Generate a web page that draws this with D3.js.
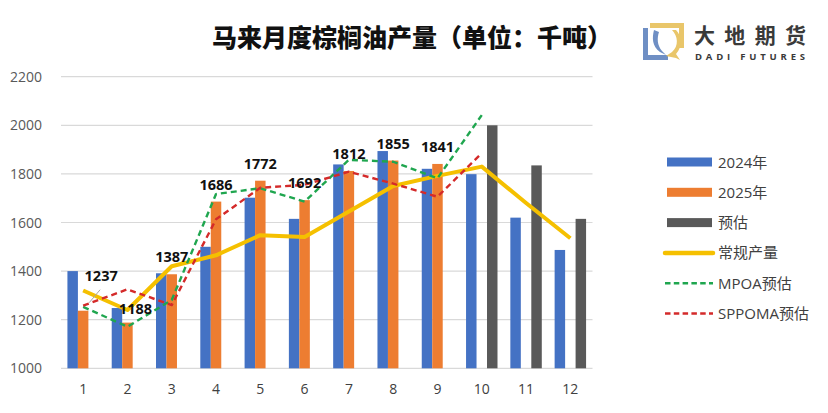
<!DOCTYPE html>
<html><head><meta charset="utf-8">
<script src="https://cdn.jsdelivr.net/npm/d3@7"></script>
<style>
html,body{margin:0;padding:0;background:#fff;}
svg{display:block;}
</style></head>
<body>
<svg id="chart" width="828" height="413"></svg>
<script>
// ---- data ----
const months = ["1","2","3","4","5","6","7","8","9","10","11","12"];
const prod2024 = [1400,1248,1391,1500,1702,1615,1839,1894,1821,1799,1620,1487];
const prod2025 = [1237,1188,1387,1686,1772,1692,1812,1855,1841,null,null,null];
const estimate = [null,null,null,null,null,null,null,null,null,2000,1835,1615];
const normalProd = [1320,1240,1420,1465,1548,1540,1645,1750,1792,1830,1680,1535];
const mpoaEst = [1253,1171,1281,1717,1741,1686,1858,1850,1782,2042,null,null];
const sppomaEst = [1258,1325,1260,1613,1743,1755,1809,1760,1706,1885,null,null];
const yTicks = [1000,1200,1400,1600,1800,2000,2200];
const legendLabels = ["2024年","2025年","预估","常规产量","MPOA预估","SPPOMA预估"];
const titleText = "马来月度棕榈油产量（单位：千吨）";

// ---- styles ----
const C = {blue:"#4472C4", orange:"#ED7D31", grey:"#595959", gold:"#F5C000", green:"#1FA64F", red:"#D42A2A"};
const svg = d3.select("#chart");
const FONT = "'Open Sans','Noto Sans CJK SC',sans-serif";

const x = d3.scaleBand().domain(months).range([61, 592.5]).paddingInner(0.29).paddingOuter(0.145);
const xs = d3.scaleBand().domain(["a","b","c"]).range([0, x.bandwidth()]);
const y = d3.scaleLinear().domain([1000, 2200]).range([368.3, 76.7]);
const cx = m => x(m) + x.bandwidth()/2;

// gridlines
svg.append("g").selectAll("line").data(yTicks).join("line")
  .attr("x1", 61).attr("x2", 592.5)
  .attr("y1", d => y(d)).attr("y2", d => y(d))
  .attr("stroke", "#D9D9D9").attr("stroke-width", 1.2);

// y tick labels
svg.append("g").selectAll("text").data(yTicks).join("text")
  .attr("x", 42).attr("y", d => y(d) + 5)
  .attr("text-anchor", "end")
  .style("font-family", FONT).style("font-size", "14px").attr("fill", "#595959")
  .text(d => d);

// x tick labels
svg.append("g").selectAll("text").data(months).join("text")
  .attr("x", d => cx(d)).attr("y", 394)
  .attr("text-anchor", "middle")
  .style("font-family", FONT).style("font-size", "14px").attr("fill", "#404040")
  .text(d => d);

// bars
const series = [
  {key:"a", vals:prod2024, color:C.blue},
  {key:"b", vals:prod2025, color:C.orange},
  {key:"c", vals:estimate, color:C.grey}
];
series.forEach(s => {
  svg.append("g").selectAll("rect")
    .data(months.map((m,i)=>({m, v:s.vals[i]})).filter(d => d.v != null))
    .join("rect")
    .attr("x", d => x(d.m) + xs(s.key))
    .attr("width", xs.bandwidth())
    .attr("y", d => y(d.v))
    .attr("height", d => y(1000) - y(d.v))
    .attr("fill", s.color);
});

// lines
const lineGen = d3.line().defined(d => d.v != null).x(d => cx(d.m)).y(d => y(d.v));
const lines = [
  {vals:normalProd, color:C.gold, w:4, dash:null},
  {vals:mpoaEst, color:C.green, w:2.4, dash:"6,4"},
  {vals:sppomaEst, color:C.red, w:2.4, dash:"6,4"}
];
lines.forEach(l => {
  svg.append("path")
    .datum(months.map((m,i)=>({m, v:l.vals[i]})))
    .attr("d", lineGen)
    .attr("fill", "none")
    .attr("stroke", l.color)
    .attr("stroke-width", l.w)
    .attr("stroke-linejoin", "round")
    .attr("stroke-dasharray", l.dash);
});

// data labels (2025)
const labelShift = {0:{dx:18, dy:-18}, 1:{dx:8, dy:3}};
const labData = months.map((m,i)=>({m, i, v:prod2025[i]})).filter(d => d.v != null);
// leader line for first label
{
  const d0 = labData[0];
  svg.append("line")
    .attr("x1", cx(d0.m) + 17).attr("y1", y(d0.v) - 21)
    .attr("x2", cx(d0.m) + 6).attr("y2", y(d0.v) - 8)
    .attr("stroke", "#A6A6A6").attr("stroke-width", 1);
}
svg.append("g").selectAll("text").data(labData).join("text")
  .attr("x", d => cx(d.m) + (labelShift[d.i] ? labelShift[d.i].dx : 0))
  .attr("y", d => y(d.v) - 12 + (labelShift[d.i] ? labelShift[d.i].dy : 0))
  .attr("text-anchor", "middle")
  .style("font-family", FONT).style("font-size", "14.5px").style("font-weight", "700")
  .attr("fill", "#111")
  .text(d => d.v);

// title
svg.append("text")
  .attr("x", 412).attr("y", 47)
  .attr("text-anchor", "middle")
  .style("font-family", "'Noto Sans CJK SC',sans-serif")
  .style("font-size", "25px").style("font-weight", "900")
  .attr("fill", "#111")
  .text(titleText);

// legend
const legY0 = 162, legStep = 30.3;
const legG = svg.append("g");
legendLabels.forEach((t, i) => {
  const yy = legY0 + i*legStep;
  if (i < 3) {
    legG.append("rect").attr("x", 667).attr("y", yy - 4.5).attr("width", 45).attr("height", 9)
      .attr("fill", [C.blue, C.orange, C.grey][i]);
  } else {
    const l = lines[i-3];
    legG.append("line").attr("x1", 665).attr("x2", 713).attr("y1", yy).attr("y2", yy)
      .attr("stroke", l.color).attr("stroke-width", l.w === 4 ? 4.5 : 2.6)
      .attr("stroke-linecap", l.dash ? "butt" : "round")
      .attr("stroke-dasharray", l.dash ? "5.5,3.3" : null);
  }
  legG.append("text").attr("x", 718).attr("y", yy + 5.5)
    .style("font-family", FONT).style("font-size", "15px").attr("fill", "#404040")
    .text(t);
});

// logo
const logo = svg.append("g");
const yel = "#E9C66A", blu = "#6F8FC4";
logo.append("path").attr("d", "M650,23 L684,23 L684,48 L679,48 L679,28 L650,28 Z").attr("fill", yel);
logo.append("path").attr("d", "M643,28 L648,28 L648,55 L668,55 L668,60 L643,60 Z").attr("fill", blu);
logo.append("path").attr("d", "M654,30 C652,38 652,46 660,52 L666,55 L662,51 C657,45 657,38 659,32 Z").attr("fill", blu);
logo.append("path").attr("d", "M672,30 C678,36 679,46 672,52 L666,56 L676,58 L680,60 L676,54 C683,46 682,36 676,30 Z").attr("fill", yel);
logo.append("text").attr("x", 694).attr("y", 43)
  .style("font-family", "'Noto Sans CJK SC',sans-serif").style("font-size", "21px").style("font-weight", "700")
  .attr("textLength", 112).attr("lengthAdjust", "spacing")
  .attr("fill", "#3a3a3a").text("大地期货");
logo.append("text").attr("x", 695).attr("y", 59.5)
  .style("font-family", "'Open Sans',sans-serif").style("font-size", "9.5px").style("font-weight", "700")
  .attr("textLength", 110).attr("lengthAdjust", "spacing")
  .attr("fill", "#3a3a3a").text("DADI FUTURES");
</script>
</body></html>
